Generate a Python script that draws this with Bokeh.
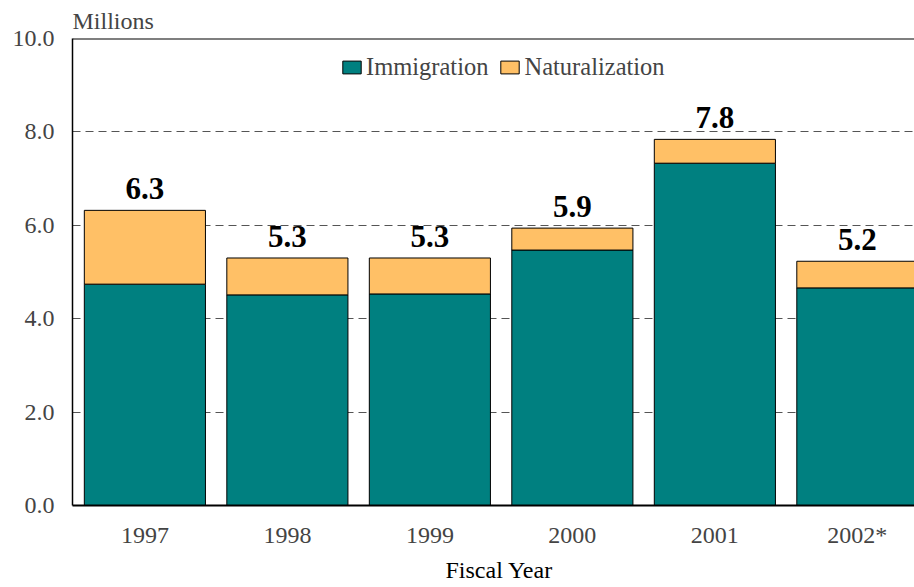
from bokeh.plotting import figure
from bokeh.models import Range1d, FixedTicker, NumeralTickFormatter, ColumnDataSource, Span, Legend, LegendItem, Title
from bokeh.embed import file_html
from bokeh.resources import INLINE

years = ["1997", "1998", "1999", "2000", "2001", "2002*"]
immigration = [4.74, 4.51, 4.53, 5.47, 7.33, 4.66]
naturalization = [1.58, 0.79, 0.77, 0.47, 0.51, 0.57]
y_ticks = [0, 2, 4, 6, 8, 10]

FONT = "Liberation Serif"
TEAL = "#008080"
ORANGE = "#FFC066"

xs = list(range(len(years)))
totals = [a + b for a, b in zip(immigration, naturalization)]
src = ColumnDataSource(dict(
    x=xs, imm=immigration, nat=naturalization, total=totals,
    label=[f"{t:.1f}" for t in totals],
))

p = figure(width=914, height=587, x_range=Range1d(-0.508, 5.401), y_range=Range1d(0, 10),
           output_backend="svg", toolbar_location=None,
           min_border_left=72, min_border_right=0, min_border_top=38, min_border_bottom=82)
p.outline_line_color = None
p.background_fill_color = "white"

p.title.text = "Millions"
p.title.text_font = FONT
p.title.text_font_size = "24px"
p.title.text_font_style = "normal"
p.title.align = "left"
p.title.offset = 0
p.title.standoff = 9

r1 = p.vbar(x="x", bottom=0, top="imm", width=0.85, source=src,
            fill_color=TEAL, line_color="black", line_width=1)
r2 = p.vbar(x="x", bottom="imm", top="total", width=0.85, source=src,
            fill_color=ORANGE, line_color="black", line_width=1)

p.text(x="x", y="total", text="label", source=src, text_align="center",
       text_baseline="bottom", y_offset=-11, text_font_size="31px",
       text_font_style="bold", text_font={"value": FONT}, text_color="black")

p.add_layout(Span(location=10, dimension="width", line_color="black", line_width=2))

# axes
p.xaxis.ticker = FixedTicker(ticks=xs)
p.xaxis.major_label_overrides = {i: y for i, y in enumerate(years)}
p.xaxis.major_tick_line_color = None
p.xaxis.major_tick_out = 0
p.xaxis.major_tick_in = 0
p.xaxis.minor_tick_line_color = None
p.xaxis.axis_line_color = "black"
p.xaxis.axis_line_width = 2
p.xaxis.major_label_text_font = FONT
p.xaxis.major_label_text_font_size = "24px"
p.xaxis.major_label_standoff = 16

xtitle = Title(text="Fiscal Year", align="left", offset=373, standoff=9,
               text_font=FONT, text_font_size="24px", text_font_style="normal",
               text_color="black")
p.add_layout(xtitle, "below")

p.yaxis.ticker = FixedTicker(ticks=y_ticks)
p.yaxis.formatter = NumeralTickFormatter(format="0.0")
p.yaxis.major_tick_line_color = None
p.yaxis.major_tick_out = 0
p.yaxis.major_tick_in = 0
p.yaxis.minor_tick_line_color = None
p.yaxis.axis_line_color = "black"
p.yaxis.axis_line_width = 1.5
p.yaxis.major_label_text_font = FONT
p.yaxis.major_label_text_font_size = "24px"
p.yaxis.major_label_standoff = 18

p.xgrid.grid_line_color = None
p.ygrid.ticker = FixedTicker(ticks=y_ticks[1:-1])
p.ygrid.grid_line_color = "#555555"
p.ygrid.grid_line_dash = "8 5"
p.ygrid.grid_line_width = 1

legend = Legend(items=[LegendItem(label="Immigration", renderers=[r1]),
                       LegendItem(label="Naturalization", renderers=[r2])],
                location=(268, 424), orientation="horizontal")
legend.border_line_color = None
legend.background_fill_alpha = 0
legend.label_text_font = FONT
legend.label_text_font_size = "24.5px"
legend.glyph_width = 23
legend.glyph_height = 16
legend.label_standoff = 3
legend.spacing = 10
legend.padding = 4
legend.margin = 0
p.add_layout(legend)

open("out.html", "w").write(file_html(p, INLINE))
